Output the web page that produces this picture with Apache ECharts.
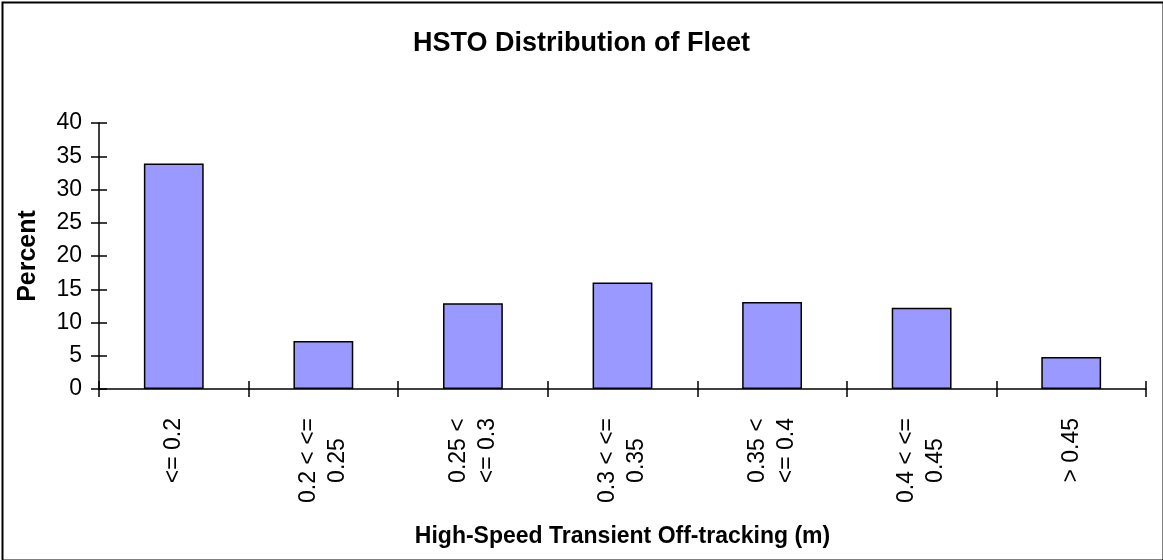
<!DOCTYPE html>
<html>
<head>
<meta charset="utf-8">
<script src="https://cdn.jsdelivr.net/npm/echarts@6/dist/echarts.min.js"></script>
<style>
html,body{margin:0;padding:0;background:#fff;}
#c{width:1163px;height:560px;}
</style>
</head>
<body>
<div id="c"></div>
<script>
var titleText = 'HSTO Distribution of Fleet';
var xAxisName = 'High-Speed Transient Off-tracking (m)';
var yAxisName = 'Percent';
var categories = ['<= 0.2', '0.2 < <=\n0.25', '0.25 <\n<= 0.3', '0.3 < <=\n0.35', '0.35 <\n<= 0.4', '0.4 < <=\n0.45', '> 0.45'];
var percentValues = [33.9, 7.2, 12.9, 16.0, 13.1, 12.2, 4.8];
var yMin = 0, yMax = 40, yInterval = 5;

var FONT = '"Liberation Sans", Arial, Helvetica, sans-serif';
var chart = echarts.init(document.getElementById('c'), null, {renderer: 'canvas'});
var gridBox = {left: 99, right: 17, top: 123, bottom: 171};

chart.setOption({
  backgroundColor: '#ffffff',
  animation: false,
  title: {
    text: titleText,
    left: 'center',
    top: 25,
    textStyle: {fontFamily: FONT, fontSize: 27, fontWeight: 'bold', color: '#000'}
  },
  grid: gridBox,
  xAxis: [{
    type: 'category',
    data: categories,
    boundaryGap: true,
    name: xAxisName,
    nameLocation: 'middle',
    nameGap: 136,
    nameTextStyle: {fontFamily: FONT, fontSize: 23, fontWeight: 'bold', color: '#000'},
    axisLine: {show: true, lineStyle: {color: '#000', width: 1.5}},
    axisTick: {show: true, inside: false, length: 8, alignWithLabel: false, interval: 0, lineStyle: {color: '#000', width: 1.5}},
    axisLabel: {
      interval: 0,
      rotate: 90,
      margin: 29,
      color: '#000',
      fontFamily: FONT,
      fontSize: 23,
      formatter: function (v) {
        return v.split('\n').map(function (s) { return '{c|' + s + '}'; }).join('\n');
      },
      rich: {c: {align: 'center', fontFamily: FONT, fontSize: 23, lineHeight: 29, color: '#000'}}
    },
    splitLine: {show: false}
  }, {
    type: 'category',
    data: categories,
    position: 'bottom',
    boundaryGap: true,
    axisLine: {show: false},
    axisTick: {show: true, inside: true, length: 8, interval: 0, lineStyle: {color: '#000', width: 1.5}},
    axisLabel: {show: false},
    splitLine: {show: false}
  }],
  yAxis: [{
    type: 'value',
    min: yMin,
    max: yMax,
    interval: yInterval,
    name: yAxisName,
    nameLocation: 'middle',
    nameRotate: 90,
    nameGap: 58,
    nameTextStyle: {fontFamily: FONT, fontSize: 25, fontWeight: 'bold', color: '#000'},
    axisLine: {show: true, lineStyle: {color: '#000', width: 1.5}},
    axisTick: {show: true, inside: false, length: 8, lineStyle: {color: '#000', width: 1.5}},
    axisLabel: {margin: 17, color: '#000', fontFamily: FONT, fontSize: 23},
    splitLine: {show: false}
  }, {
    type: 'value',
    min: yMin,
    max: yMax,
    interval: yInterval,
    position: 'left',
    axisLine: {show: false},
    axisTick: {show: true, inside: true, length: 8, lineStyle: {color: '#000', width: 1.5}},
    axisLabel: {show: false},
    splitLine: {show: false}
  }],
  series: [{
    type: 'bar',
    data: percentValues,
    xAxisIndex: 0,
    yAxisIndex: 0,
    barCategoryGap: '60%',
    itemStyle: {color: '#9999FF', borderColor: '#000', borderWidth: 1.5}
  }],
  graphic: [{
    type: 'rect',
    left: 0, top: 0,
    shape: {x: 1, y: 1, width: 1161, height: 558},
    style: {fill: 'none', stroke: '#000', lineWidth: 2},
    silent: true,
    z: 100
  }]
});
</script>
</body>
</html>
